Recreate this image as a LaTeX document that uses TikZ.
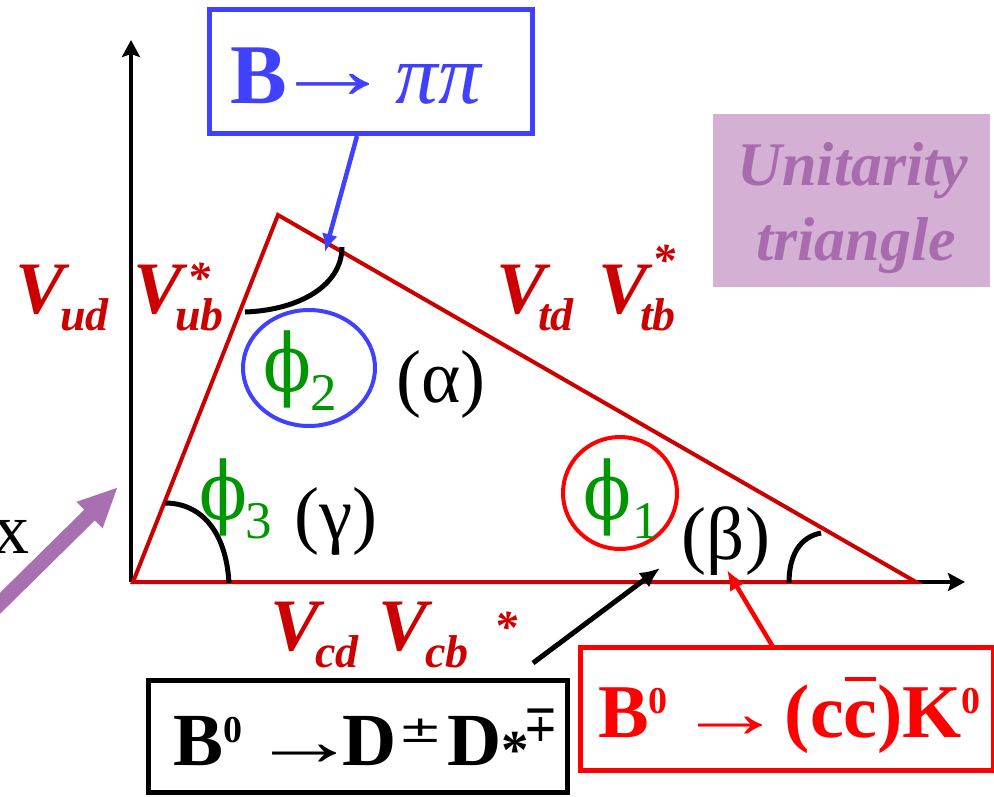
\documentclass[tikz,border=0pt]{standalone}
\usepackage{fontspec}
\setmainfont{Liberation Serif}
\newfontfamily\dvs{DejaVu Sans}
\newfontfamily\dvserif{DejaVu Serif}
\usepackage{graphicx}
\usetikzlibrary{arrows.meta}
\newcommand\fs[1]{\fontsize{#1}{#1}\selectfont}
\newcommand\phig{\scalebox{0.88}[1]{\dvserif\fs{80}ϕ}}
\newcommand\arr[1]{\scalebox{1.5}[1]{\mdseries\fs{#1}→}}
\definecolor{tri}{RGB}{204,0,0}
\definecolor{bblue}{RGB}{64,64,255}
\definecolor{rred}{RGB}{255,0,0}
\definecolor{ggreen}{RGB}{0,150,0}
\definecolor{pfill}{RGB}{212,176,212}
\definecolor{ptext}{RGB}{168,108,174}
\definecolor{parrow}{RGB}{168,112,176}
\begin{document}
\begin{tikzpicture}[x=1pt,y=-1pt,
  every node/.style={inner sep=0pt,outer sep=0pt},
  ckm/.style={text=tri,font=\bfseries\itshape},
  axis/.style={line width=4pt,-{Stealth[length=17pt,width=18pt,inset=3pt]}},
  triline/.style={draw=tri,line width=4pt,line join=miter},
  anglearc/.style={line width=5pt,black},
  greek/.style={text=black},
  phinode/.style={text=ggreen},
  boxnode/.style={draw,line width=5pt}]
\useasboundingbox (0,0) rectangle (994,796);
\clip (0,0) rectangle (994,796);
\fill[white] (0,0) rectangle (994,796);

% coordinates
\coordinate (O) at (131,582);
\coordinate (ytip) at (131,40);
\coordinate (xtip) at (965,582);
\coordinate (A) at (133,582);
\coordinate (B) at (278,215);
\coordinate (C) at (916,582);

% unitarity box
\node[fill=pfill,minimum width=277pt,minimum height=173pt] (utbox) at (851.5,200.5) {};
\node[text=ptext,font=\bfseries\itshape,anchor=base] (ut1) at (853,185) {\fs{62}Unitarity};
\node[text=ptext,font=\bfseries\itshape,anchor=base] (ut2) at (856,260) {\fs{62}triangle};

% axes
\draw[axis] (O) -- (ytip);
\draw[axis] (O) -- (xtip);

% triangle
\draw[triline] (A) -- (B) -- (C) -- cycle;

% angle arcs
\draw[anglearc] (229,583) .. controls (226,530) and (200,503) .. (165,503);
\draw[anglearc] (245,312) .. controls (300,310) and (342,285) .. (342,247);
\draw[anglearc] (789,583) .. controls (789,555) and (800,537) .. (821,533);

% CKM labels
\node[ckm,anchor=base west] (vud) at (16,313) {\fs{74}V};
\node[ckm,anchor=base west] (ud) at (60,330) {\fs{46}ud};
\node[ckm,anchor=base west] (vub) at (133,313) {\fs{74}V};
\node[ckm,anchor=north] (ubstar) at (199,263) {\fs{46}*};
\node[ckm,anchor=base west] (ub) at (175,330) {\fs{46}ub};

\node[ckm,anchor=base west] (vtd) at (496,313) {\fs{74}V};
\node[ckm,anchor=base west] (td) at (538,330) {\fs{46}td};
\node[ckm,anchor=base west] (vtb) at (598,313) {\fs{74}V};
\node[ckm,anchor=north] (tbstar) at (664,245) {\fs{46}*};
\node[ckm,anchor=base west] (tb) at (640,330) {\fs{46}tb};

\node[ckm,anchor=base west] (vcd) at (270,650) {\fs{74}V};
\node[ckm,anchor=base west] (cd) at (315,667) {\fs{46}cd};
\node[ckm,anchor=base west] (vcb) at (378,650) {\fs{74}V};
\node[ckm,anchor=base west] (cb) at (425,667) {\fs{46}cb};
\node[ckm,anchor=north] (cbstar) at (506,612) {\fs{46}*};

% phi circles
\draw[bblue,line width=4pt] (309,368) ellipse [x radius=66, y radius=58];
\draw[rred,line width=4pt] (620,493) ellipse [x radius=57, y radius=56];

% phis
\node[phinode] (phi2) at (287,369) {\phig};
\node[phinode,anchor=base west] (sub2) at (310,410) {\fs{53}2};
\node[phinode] (phi3) at (223,497) {\phig};
\node[phinode,anchor=base west] (sub3) at (245,538) {\fs{53}3};
\node[phinode] (phi1) at (607,497) {\phig};
\node[phinode,anchor=base west] (sub1) at (632,538) {\fs{53}1};

\node[greek] (alpha) at (441,384) {\fs{75}(α)};
\node[greek] (gamma) at (336,521) {\fs{75}(γ)};
\node[greek] (beta) at (726,541) {\fs{75}(β)};

% blue box
\node[boxnode,draw=bblue,minimum width=323pt,minimum height=124pt] (bppbox) at (370.5,71) {};
\node[text=bblue,font=\bfseries,anchor=base west] (bpp) at (230,103)
  {\fs{85}B\hspace{-15pt}\raisebox{5pt}{\scalebox{1.45}[1]{\mdseries→}}\hspace{1pt}{\mdseries\itshape ππ}};

% black box
\node[boxnode,draw=black,minimum width=419pt,minimum height=112pt] (ddbox) at (357.5,736) {};
\node[font=\bfseries,anchor=base west] (dd) at (173,765)
  {\fs{75}B\raisebox{23pt}{\fs{38}0}\hspace{8pt}\arr{72}\hspace{-16pt}D\hspace{2pt}\raisebox{23pt}{\scalebox{1.2}[0.85]{\dvs\mdseries\fs{44}±}}\hspace{5pt}D\raisebox{-3pt}{\fs{55}*}\hspace{-6pt}\raisebox{24pt}{\scalebox{0.8}[1]{\dvs\mdseries\fs{52}∓}}};

% red box
\node[boxnode,draw=rred,minimum width=413pt,minimum height=123pt] (ccbox) at (786.5,708.5) {};
\node[text=rred,font=\bfseries,anchor=base west] (cc) at (598,737)
  {\fs{76}B\raisebox{24pt}{\fs{38}0}\hspace{9pt}\arr{72}\hspace{0pt}(c\rlap{\hspace{1pt}\raisebox{56pt}{\rule{31pt}{4pt}}}c)K\raisebox{24pt}{\fs{38}0}};

% x label and purple arrow
\node[anchor=base east] (xlab) at (30,553) {\fs{72}x};
\coordinate (xs) at (-25,628);
\coordinate (xt) at (118,487);
\draw[parrow,line width=15pt,-{Triangle[length=40pt,width=34pt]}] (xs) -- (xt);

% connectors
\coordinate (bppout) at (357,136);
\coordinate (alphatip) at (325,252);
\draw[bblue,line width=4.5pt,-{Latex[length=18pt,width=16pt]}] (bppout) -- (alphatip);
\coordinate (ddstart) at (533,663);
\coordinate (betatipa) at (660,568);
\draw[black,line width=5pt,-{Latex[length=20pt,width=18pt]}] (ddstart) -- (betatipa);
\coordinate (ccstart) at (773,647);
\coordinate (betatipb) at (727,570);
\draw[rred,line width=4.5pt,-{Latex[length=20pt,width=17pt]}] (ccstart) -- (betatipb);
\end{tikzpicture}
\end{document}
